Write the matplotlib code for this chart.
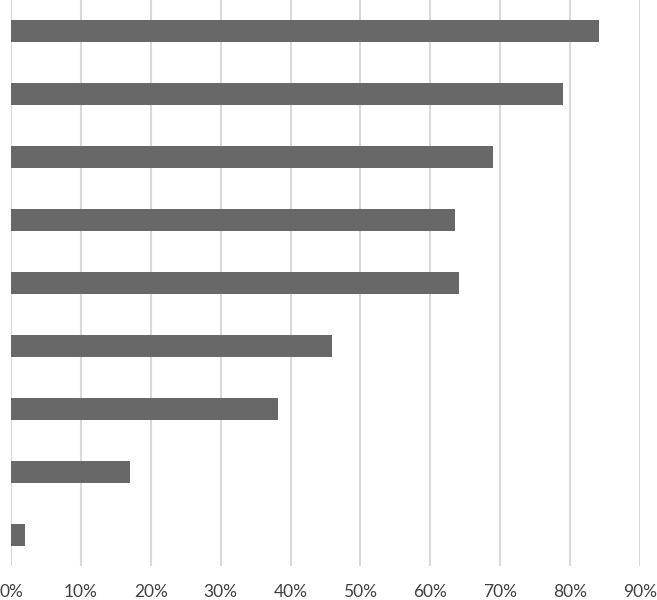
import matplotlib.pyplot as plt
from matplotlib.ticker import FuncFormatter

# values, top bar first
shares = [0.841, 0.790, 0.689, 0.636, 0.641, 0.460, 0.382, 0.170, 0.020]
ticks = [0.0, 0.1, 0.2, 0.3, 0.4, 0.5, 0.6, 0.7, 0.8, 0.9]

plt.rcParams['font.family'] = ['Lato', 'DejaVu Sans']

fig = plt.figure(figsize=(6.57, 6.0), dpi=100)
ax = fig.add_axes([11 / 657, 34 / 600, 629 / 657, 566 / 600])

pos = list(range(len(shares)))[::-1]
ax.barh(pos, shares, height=0.35, color='#686868', zorder=3)

ax.set_xlim(0, 0.9)
ax.set_ylim(-0.5, len(shares) - 0.5)
ax.set_xticks(ticks)
ax.xaxis.set_major_formatter(FuncFormatter(lambda v, p: f"{v * 100:.0f}%"))
ax.set_yticks([])
ax.tick_params(axis='x', length=0, pad=13, labelsize=12.5, colors='#404040')
ax.grid(axis='x', color='#d9d9d9', linewidth=1.5, zorder=0)
for s in ax.spines.values():
    s.set_visible(False)

fig.savefig('out.png', dpi=100)
